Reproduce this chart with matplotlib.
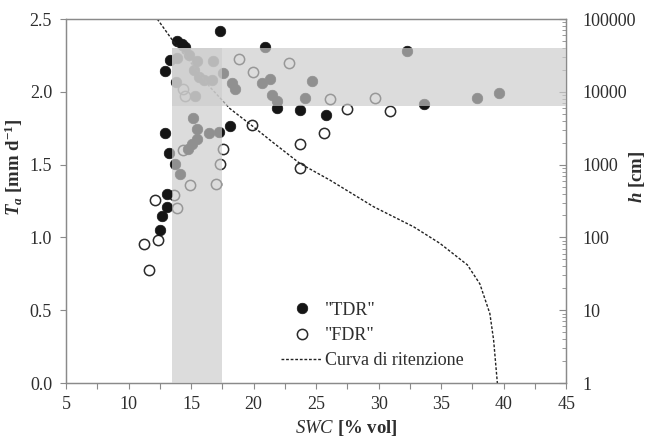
"""
Transpiration vs soil water content, with the retention curve on a log axis.
"""

import matplotlib
matplotlib.use("Agg")
import matplotlib.pyplot as plt
from matplotlib.patches import Rectangle
from matplotlib.ticker import LogLocator, FuncFormatter, MultipleLocator, NullFormatter

plt.rcParams.update({
    "font.family": "Liberation Serif",
    "mathtext.fontset": "custom",
    "mathtext.rm": "Liberation Serif",
    "mathtext.it": "Liberation Serif:italic",
    "mathtext.bf": "Liberation Serif:bold",
    "mathtext.bfit": "Liberation Serif:italic:bold",
})

"""TDR readings: SWC [% vol] and Ta [mm/d]."""
tdr_swc = [17.3, 13.85, 14.25, 14.55, 13.3, 12.92, 20.9, 21.85, 23.72, 25.8,
           32.3, 33.6, 18.1, 12.95, 13.2, 13.75, 13.05, 13.05, 12.65, 12.55,
           13.85, 14.8, 15.45, 16.79, 15.2, 15.6, 16.0, 16.65, 13.8, 15.32,
           17.58, 18.3, 18.5, 20.7, 21.3, 21.5, 21.85, 24.65, 24.15, 37.86,
           39.6, 15.19, 15.5, 16.45, 17.2, 15.45, 15.1, 14.79, 14.1]
tdr_ta = [2.42, 2.35, 2.33, 2.31, 2.22, 2.14, 2.31, 1.89, 1.875, 1.84,
          2.28, 1.915, 1.765, 1.715, 1.58, 1.505, 1.30, 1.21, 1.15, 1.05,
          2.23, 2.25, 2.21, 2.21, 2.15, 2.10, 2.08, 2.08, 2.07, 1.97,
          2.13, 2.06, 2.02, 2.06, 2.085, 1.98, 1.94, 2.075, 1.955, 1.955,
          1.99, 1.82, 1.745, 1.715, 1.725, 1.675, 1.64, 1.61, 1.435]

"""FDR readings."""
fdr_swc = [19.86, 23.72, 23.72, 25.6, 27.45, 30.92, 29.75, 18.8, 19.94, 22.83,
           26.1, 14.38, 14.52, 17.58, 17.32, 14.38, 14.95, 17.03, 13.64, 12.12,
           13.9, 12.38, 11.27, 11.67]
fdr_ta = [1.77, 1.64, 1.475, 1.72, 1.88, 1.865, 1.955, 2.225, 2.135, 2.20,
          1.95, 2.02, 1.97, 1.61, 1.505, 1.60, 1.36, 1.367, 1.29, 1.257,
          1.20, 0.985, 0.957, 0.776]

"""Retention curve: SWC [% vol] and h [cm]."""
ret_swc = [12.3, 13.6, 15.0, 16.5, 18.1, 19.9, 21.5, 23.7, 26.1, 29.6,
           32.8, 34.9, 37.1, 38.1, 38.9, 39.2, 39.5]
ret_h = [100000, 48800, 25000, 11700, 5900, 3400, 2050, 1040, 614, 264,
         140, 83, 42, 23, 9, 3.9, 1]

"""Optimal ranges (shaded)."""
opt_swc = [13.5, 17.5]
opt_ta = [1.9, 2.3]

TEXT = "#2e2e2e"
SPINE = "#8a8a8a"


def main():
    fig = plt.figure(figsize=(6.47, 4.43), dpi=100)
    ax = fig.add_axes([0.102, 0.1354, 0.773, 0.8217])
    ax2 = ax.twinx()

    ax.plot(fdr_swc, fdr_ta, "o", ms=7.4, mfc="none", mec="#2a2a2a", mew=1.1,
            linestyle="none", label='"FDR"', zorder=3)
    ax.plot(tdr_swc, tdr_ta, "o", ms=7.6, mfc="#151515", mec="#151515", mew=0.5,
            linestyle="none", label='"TDR"', zorder=4)

    ax2.plot(ret_swc, ret_h, color="#222222", lw=1.0, dashes=(2.0, 1.3),
             label="Curva di ritenzione", zorder=2)

    """Shaded ranges drawn on top, so the points underneath look lighter."""
    band = dict(facecolor="#cccccc", alpha=0.68, lw=0, transform=ax.transData, zorder=5)
    ax2.add_patch(Rectangle((opt_swc[0], 0), opt_swc[1] - opt_swc[0], opt_ta[1], **band))
    ax2.add_patch(Rectangle((opt_swc[0], opt_ta[0]), 45 - opt_swc[0],
                            opt_ta[1] - opt_ta[0], **band))

    ax.set_xlim(5, 45)
    ax.set_ylim(0, 2.5)
    ax2.set_yscale("log")
    ax2.set_ylim(1, 1e5)

    ax.xaxis.set_major_locator(MultipleLocator(5))
    ax.xaxis.set_minor_locator(MultipleLocator(2.5))
    ax.yaxis.set_major_locator(MultipleLocator(0.5))
    ax.yaxis.set_major_formatter(FuncFormatter(lambda v, p: "%.1f" % v))
    ax.tick_params(axis="x", which="both", direction="out", length=4, width=0.8,
                   color=SPINE, labelsize=13, labelcolor=TEXT, pad=5)
    ax.tick_params(axis="y", which="both", direction="out", length=4, width=0.8,
                   color=SPINE, labelsize=13, labelcolor=TEXT, pad=6)

    ax2.yaxis.set_major_locator(LogLocator(base=10, numticks=10))
    ax2.yaxis.set_minor_locator(LogLocator(base=10, subs=range(2, 10), numticks=10))
    ax2.yaxis.set_minor_formatter(NullFormatter())
    ax2.yaxis.set_major_formatter(FuncFormatter(lambda v, p: "%d" % round(v)))
    ax2.tick_params(axis="y", which="major", direction="in", length=5, width=0.8,
                    color=SPINE, labelsize=13, labelcolor=TEXT, pad=12)
    ax2.tick_params(axis="y", which="minor", direction="in", length=3, width=0.6,
                    color=SPINE)

    for a in (ax, ax2):
        for s in a.spines.values():
            s.set_color(SPINE)
            s.set_linewidth(0.9)

    fig.text(0.535, 0.034, r"$\mathit{SWC}$ [% vol]", fontsize=13.5, fontweight="bold",
             color=TEXT, ha="center", va="center")
    fig.text(0.022, 0.623, r"$\mathbfit{T}_{\mathbfit{a}}$ [mm d$^{\mathbf{-1}}$]",
             fontsize=13.5, fontweight="bold", color=TEXT, rotation=90,
             ha="center", va="center")
    fig.text(0.984, 0.600, r"$\mathbfit{h}$ [cm]", fontsize=13.5, fontweight="bold",
             color=TEXT, rotation=90, ha="center", va="center")

    h1, l1 = ax.get_legend_handles_labels()
    h2, l2 = ax2.get_legend_handles_labels()
    handles = [h1[1], h1[0], h2[0]]
    labels = [l1[1], l1[0], l2[0]]
    leg = ax2.legend(handles, labels, loc="center left", bbox_to_anchor=(0.420, 0.243),
                     bbox_transform=fig.transFigure, frameon=False, fontsize=13,
                     handlelength=2.3, handletextpad=0.15, labelspacing=0.45,
                     borderpad=0)
    for t in leg.get_texts():
        t.set_color(TEXT)
    leg.set_zorder(10)

    fig.savefig("out.png", dpi=100)


if __name__ == "__main__":
    main()
